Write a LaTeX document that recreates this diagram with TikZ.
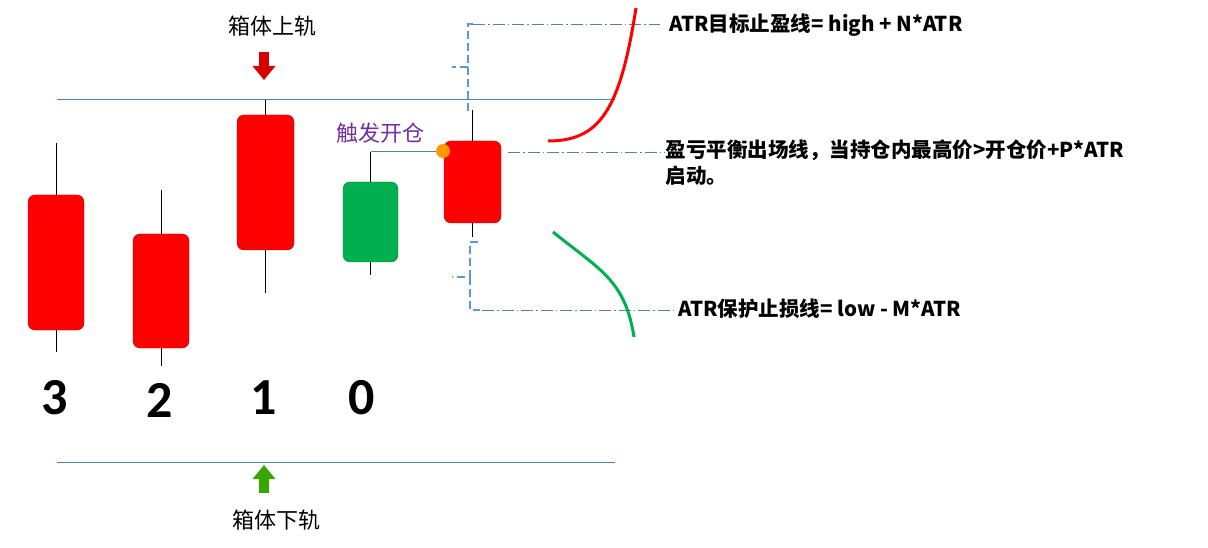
\documentclass[tikz,border=0pt]{standalone}
\usepackage{fontspec}
\setmainfont{Carlito}
\newfontfamily\cjk{Noto Sans CJK SC}
\usetikzlibrary{arrows.meta}
\definecolor{railblue}{RGB}{84,130,170}
\definecolor{dashblue}{RGB}{91,155,213}
\definecolor{candlered}{RGB}{255,0,0}
\definecolor{candlegreen}{RGB}{0,176,80}
\definecolor{labelpurple}{RGB}{112,48,160}
\newcommand\candle[7]{
  \draw (#1+#2/2,#5) -- (#1+#2/2,#6);
  \draw[draw=#7!70!black,fill=#7,rounded corners=7] (#1,#3) rectangle (#1+#2,#4);
}
\tikzset{
  rail/.style={railblue,line width=0.8},
  level/.style={railblue,dash pattern=on 12 off 3 on 1.5 off 3,line width=0.8},
  brk/.style={dashblue,dash pattern=on 8 off 4,line width=2.4},
  note/.style={anchor=west,font=\cjk\bfseries\fontsize{20.5}{26}\selectfont},
  num/.style={font=\bfseries\fontsize{52}{52}\selectfont},
  captext/.style={font=\cjk\fontsize{22}{26}\selectfont}
}
\begin{document}
\begin{tikzpicture}[x=1pt,y=-1pt]
  \useasboundingbox (0,0) rectangle (1208,548);
  % rails
  \draw[rail] (57,99) -- (615,99);
  \draw[rail] (57,462) -- (615,462);
  % candles
  \candle{28}{56}{195}{330}{143}{352}{candlered}
  \candle{133}{56}{234}{348}{190}{366}{candlered}
  \candle{237}{57}{115}{250}{100}{293}{candlered}
  \candle{343}{55}{182}{262}{152}{275}{candlegreen}
  \candle{444}{57}{141}{223}{110}{237}{candlered}
  \draw[railblue] (370.5,151) -- (443,151);
  \node[circle,fill=orange!80!yellow,inner sep=0,minimum width=14,minimum height=11] (dot) at (443,151) {};
  \node[captext,labelpurple] (trig) at (380,133) {触发开仓};
  % numbers
  \node[num] (n3) at (55,398) {3};
  \node[num] (n2) at (160,400) {2};
  \node[num] (n1) at (264,398) {1};
  \node[num] (n0) at (362,398) {0};
  % rail arrows
  \node[captext] (up) at (272,26) {箱体上轨};
  \node[captext] (down) at (276,520) {箱体下轨};
  \draw[-{Triangle[width=22,length=14]},line width=10,red!85!black] (264,52) -- (264,80);
  \draw[-{Triangle[width=22,length=14]},line width=10,green!50!black!70!lime] (264,493) -- (264,465);
  % atr brackets
  \draw[brk] (473,24) -- (468,24) -- (468,67) -- (452,67) (468,67) -- (468,110) -- (473,110);
  \draw[brk] (478,242) -- (470,242) -- (470,277) -- (452,277) (470,277) -- (470,310) -- (480,310);
  \draw[level] (473,24) -- (660,24);
  \draw[level] (508,152) -- (665,152);
  \draw[level] (482,310) -- (675,310);
  % exit curves
  \draw[red,line width=3] (548,141) .. controls (600,141) and (620,110) .. (636,8);
  \draw[candlegreen,line width=3] (553,232) .. controls (600,270) and (625,280) .. (634,337);
  % notes
  \node[note] (tp) at (666,25) {ATR目标止盈线= high + N*ATR};
  \node[note,align=left,anchor=north west] (be) at (662,136) {盈亏平衡出场线，当持仓内最高价>开仓价+P*ATR\\启动。};
  \node[note] (sl) at (675,309) {ATR保护止损线= low - M*ATR};
\end{tikzpicture}
\end{document}
